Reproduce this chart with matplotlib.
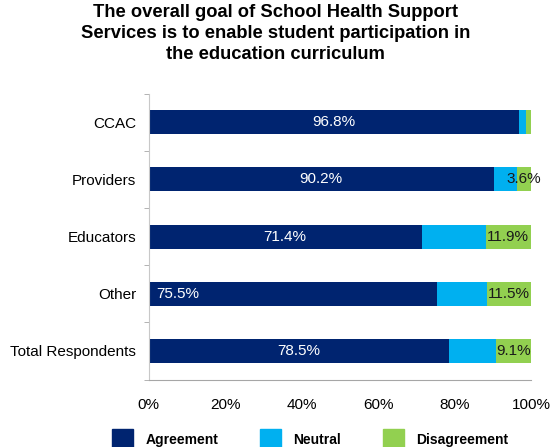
import matplotlib.pyplot as plt
from matplotlib.patches import Patch

plt.rcParams['font.family'] = ['Liberation Sans', 'DejaVu Sans']

groups = ['CCAC', 'Providers', 'Educators', 'Other', 'Total Respondents']
agreement = [96.8, 90.2, 71.4, 75.5, 78.5]
neutral = [1.8, 6.2, 16.7, 13.0, 12.4]
disagreement = [1.4, 3.6, 11.9, 11.5, 9.1]
agree_labels = ['96.8%', '90.2%', '71.4%', '75.5%', '78.5%']
disagree_labels = ['', '3.6%', '11.9%', '11.5%', '9.1%']

c_agree = '#002470'
c_neutral = '#00B0F0'
c_dis = '#92D050'

fig = plt.figure(figsize=(5.51, 4.47), dpi=100)
ax = fig.add_axes([0.270, 0.151, 0.6937, 0.6395])

y = list(range(len(groups)))
h = 0.42
ax.barh(y, agreement, height=h, color=c_agree)
ax.barh(y, neutral, left=agreement, height=h, color=c_neutral)
left3 = [a + n for a, n in zip(agreement, neutral)]
ax.barh(y, disagreement, left=left3, height=h, color=c_dis)

for i in y:
    if groups[i] == 'Other':
        # this label sits at the bar start in the original
        ax.text(2, i, agree_labels[i], color='white', fontsize=11,
                ha='left', va='center')
    else:
        ax.text(agreement[i] / 2, i, agree_labels[i], color='white',
                fontsize=11, ha='center', va='center')
    if disagree_labels[i]:
        ax.text(left3[i] + disagreement[i] / 2, i, disagree_labels[i],
                color='#1a1a1a', fontsize=11, ha='center', va='center')

ax.set_ylim(len(groups) - 0.5, -0.5)
ax.set_xlim(0, 100)
ax.set_yticks(y)
ax.set_yticks([i - 0.5 for i in range(len(groups) + 1)], minor=True)
ax.set_yticklabels(groups, fontsize=11)
ax.set_xticks([0, 20, 40, 60, 80, 100])
ax.set_xticklabels(['0%', '20%', '40%', '60%', '80%', '100%'], fontsize=11)
ax.tick_params(length=0)
ax.tick_params(axis='x', pad=13)
ax.tick_params(axis='y', pad=9)
ax.tick_params(axis='y', which='minor', length=3.5, color='#a6a6a6')
for s in ['top', 'right']:
    ax.spines[s].set_visible(False)
ax.spines['bottom'].set_color('#a6a6a6')
ax.spines['left'].set_color('#c8c8c8')

fig.text(0.5, 0.99, 'The overall goal of School Health Support\n'
         'Services is to enable student participation in\n'
         'the education curriculum', ha='center', va='top',
         fontsize=13.2, fontweight='bold', linespacing=1.3)

handles = [Patch(color=c_agree), Patch(color=c_neutral), Patch(color=c_dis)]
fig.legend(handles, ['Agreement', 'Neutral', 'Disagreement'],
           loc='lower center', bbox_to_anchor=(0.563, -0.035), ncol=3,
           frameon=False, prop={'weight': 'bold', 'size': 10},
           handlelength=1.5, handleheight=2.0, columnspacing=3.0,
           handletextpad=0.9)

fig.savefig('out.png', dpi=100)
